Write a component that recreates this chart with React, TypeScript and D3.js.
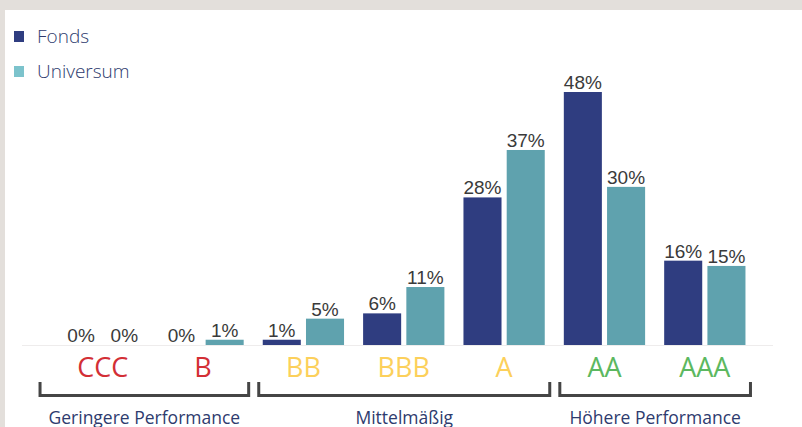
import { scaleBand, scaleLinear } from 'd3'

const categories = ['CCC', 'B', 'BB', 'BBB', 'A', 'AA', 'AAA']
const categoryColors = ['#d32f35', '#d32f35', '#fcd05b', '#fcd05b', '#fcd05b', '#5cb860', '#5cb860']
const seriesNames = ['Fonds', 'Universum']
const fondsValues = [0, 0, 1, 6, 28, 48, 16]
const universumValues = [0, 1, 5, 11, 37, 30, 15]
const groups = [
	{ label: 'Geringere Performance', from: 'CCC', to: 'B' },
	{ label: 'Mittelmäßig', from: 'BB', to: 'A' },
	{ label: 'Höhere Performance', from: 'AA', to: 'AAA' },
]

const barColors = ['#2f3d80', '#5fa2ae']
const legendColors = ['#2f3d80', '#7cc3cc']
const textNavy = '#2e3b6e'

export default function App() {
	const width = 802
	const height = 427
	const baseline = 345

	const x0 = scaleBand<string>().domain(categories).range([52.5, 755]).paddingInner(0.19).paddingOuter(0.095)
	const x1 = scaleBand<string>().domain(seriesNames).range([0, x0.bandwidth()]).paddingInner(0.12)
	const y = scaleLinear().domain([0, 48]).range([baseline, 92])

	const series = [fondsValues, universumValues]

	return (
		<div style={{ position: 'fixed', left: 0, top: 0 }}>
			<svg width={width} height={height} style={{ display: 'block' }}>
				<rect x={0} y={0} width={width} height={height} fill="#e3dfdb" />
				<rect x={5} y={10} width={width - 5} height={height - 10} fill="#ffffff" />

				{seriesNames.map((name, i) => (
					<g key={name}>
						<rect x={14} y={31 + i * 35} width={10} height={11} fill={legendColors[i]} />
						<text x={37} y={43 + i * 35} fontFamily="Open Sans" fontWeight={300} fontSize={19} fill={textNavy}>
							{name}
						</text>
					</g>
				))}

				<line x1={22} x2={773} y1={baseline + 0.5} y2={baseline + 0.5} stroke="#eeecec" strokeWidth={1} />

				{categories.map((cat, ci) => {
					const gx = x0(cat) ?? 0
					return (
						<g key={cat}>
							{seriesNames.map((name, si) => {
								const v = series[si][ci]
								const bx = gx + (x1(name) ?? 0)
								return (
									<g key={name}>
										{v > 0 && (
											<rect
												x={bx}
												y={y(v)}
												width={x1.bandwidth()}
												height={baseline - y(v)}
												fill={barColors[si]}
											/>
										)}
										<text
											x={bx + x1.bandwidth() / 2}
											y={y(v) - 3}
											textAnchor="middle"
											fontFamily="Liberation Sans"
											fontSize={19}
											fill="#3a3a3a"
										>
											{v}%
										</text>
									</g>
								)
							})}
							<text
								x={gx + x0.bandwidth() / 2}
								y={377}
								textAnchor="middle"
								fontFamily="Open Sans"
								fontSize={27}
								fill={categoryColors[ci]}
							>
								{cat}
							</text>
						</g>
					)
				})}

				{groups.map((g, gi) => {
					const left = (x0(g.from) ?? 0) - (gi === 0 ? 22 : 4)
					const right = (x0(g.to) ?? 0) + x0.bandwidth() + 5
					return (
						<g key={g.label}>
							<path
								d={`M${left},382 V395.5 H${right} V382`}
								fill="none"
								stroke="#454545"
								strokeWidth={3}
							/>
							<text
								x={(left + right) / 2}
								y={424}
								textAnchor="middle"
								fontFamily="Open Sans"
								fontSize={17.5}
								fill={textNavy}
							>
								{g.label}
							</text>
						</g>
					)
				})}
			</svg>
		</div>
	)
}
